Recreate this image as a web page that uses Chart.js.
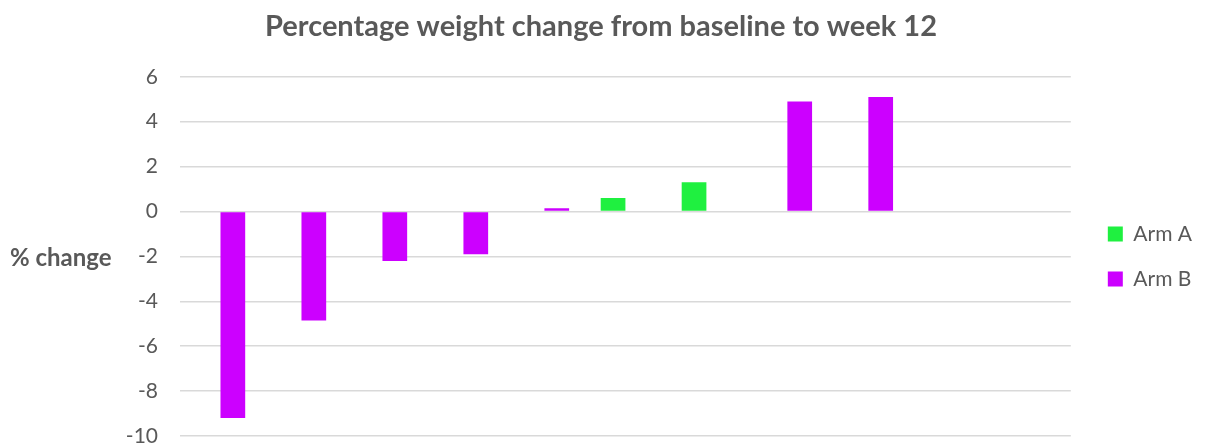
<!DOCTYPE html>
<html>
<head>
<meta charset="utf-8">
<script src="https://cdn.jsdelivr.net/npm/chart.js@4/dist/chart.umd.min.js"></script>
<style>
  html, body { margin: 0; padding: 0; background: #fff; }
  #wrap { width: 1208px; height: 446px; }
</style>
</head>
<body>
<div id="wrap"><canvas id="weightChart"></canvas></div>
<script>
// participants along the x axis (labels are not shown)
const participants = ['1', '2', '3', '4', '5', '6', '7', '8', '9', '10', '11'];
// % weight change per participant, one array per arm
const armA = [null, null, null, null, null, 0.6, 1.3, null, null, null, null];
const armB = [-9.2, -4.85, -2.2, -1.9, 0.15, null, null, 4.9, 5.1, null, null];
const yTicks = [-10, -8, -6, -4, -2, 0, 2, 4, 6];

const textColor = '#595959';
const fontName = 'Lato, "Open Sans", sans-serif';

// horizontal "% change" label on the left of the value axis
const sideLabel = {
    id: 'sideLabel',
    afterDraw(chart) {
        const ctx = chart.ctx;
        const area = chart.chartArea;
        ctx.save();
        ctx.font = 'bold 24px ' + fontName;
        ctx.fillStyle = textColor;
        ctx.textAlign = 'left';
        ctx.textBaseline = 'middle';
        ctx.fillText('% change', 10, (area.top + area.bottom) / 2 + 2);
        ctx.restore();
    }
};

const ctx = document.getElementById('weightChart').getContext('2d');
new Chart(ctx, {
    type: 'bar',
    data: {
        labels: participants,
        datasets: [
            {
                label: 'Arm A',
                data: armA,
                backgroundColor: '#1ff040',
                categoryPercentage: 0.61,
                barPercentage: 1
            },
            {
                label: 'Arm B',
                data: armB,
                backgroundColor: '#cc00ff',
                categoryPercentage: 0.61,
                barPercentage: 1
            }
        ]
    },
    options: {
        responsive: true,
        maintainAspectRatio: false,
        animation: false,
        layout: {
            padding: { left: 0, right: 6, top: 0, bottom: 10 }
        },
        scales: {
            x: {
                display: false
            },
            y: {
                min: -10,
                max: 6,
                afterBuildTicks(scale) {
                    scale.ticks = yTicks.map(v => ({ value: v }));
                },
                afterFit(scale) {
                    scale.width = 180;
                    scale.paddingTop = 0;
                    scale.paddingBottom = 0;
                },
                border: { display: false },
                grid: { color: '#d9d9d9', lineWidth: 1.5, drawTicks: false },
                ticks: {
                    padding: 22,
                    color: textColor,
                    font: { family: fontName, size: 21 }
                }
            },
            // empty strip between the plot and the legend
            gap: {
                type: 'linear',
                axis: 'y',
                position: 'right',
                display: true,
                ticks: { display: false },
                grid: { display: false },
                border: { display: false },
                afterFit(scale) {
                    scale.width = 13;
                }
            }
        },
        plugins: {
            title: {
                display: true,
                text: 'Percentage weight change from baseline to week 12',
                color: textColor,
                font: { family: fontName, size: 29, weight: 'bold', lineHeight: 1.2 },
                padding: { top: 9, bottom: 33 }
            },
            legend: {
                position: 'right',
                fullSize: false,
                labels: {
                    boxWidth: 15,
                    boxHeight: 15,
                    padding: 24,
                    color: textColor,
                    font: { family: fontName, size: 21 }
                }
            },
            tooltip: { enabled: false }
        }
    },
    plugins: [sideLabel]
});
</script>
</body>
</html>
